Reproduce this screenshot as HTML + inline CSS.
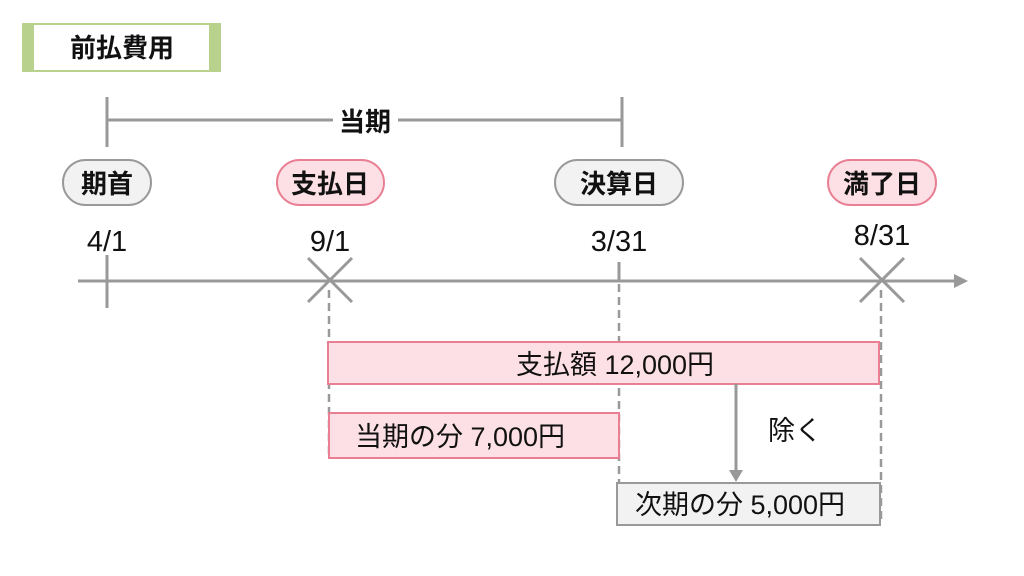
<!DOCTYPE html>
<html><head><meta charset="utf-8"><style>
html,body{margin:0;padding:0;background:#fff;}
svg{display:block;}
text{font-family:"Liberation Sans","Noto Sans CJK JP",sans-serif;fill:#111;}
</style></head><body>
<svg width="1024" height="576" viewBox="0 0 1024 576">
<rect x="22" y="23" width="199" height="49" fill="#b8d28e"/>
<rect x="34" y="25" width="175" height="45" fill="#fff"/>
<text x="122" y="57" font-size="26" font-weight="bold" text-anchor="middle">前払費用</text>

<g stroke="#999" stroke-width="3" fill="none">
<line x1="107" y1="97" x2="107" y2="147"/>
<line x1="622" y1="97" x2="622" y2="147"/>
<line x1="107" y1="120" x2="333" y2="120"/>
<line x1="398" y1="120" x2="622" y2="120"/>
</g>
<text x="365" y="131" font-size="26" font-weight="bold" text-anchor="middle">当期</text>

<rect x="63" y="160" width="88" height="45" rx="22.5" fill="#f2f2f2" stroke="#999" stroke-width="2"/>
<text x="107" y="193" font-size="26" font-weight="bold" text-anchor="middle">期首</text>
<rect x="277" y="160" width="107" height="45" rx="22.5" fill="#fde0e5" stroke="#e87f93" stroke-width="2"/>
<text x="330" y="193" font-size="26" font-weight="bold" text-anchor="middle">支払日</text>
<rect x="555" y="160" width="128" height="45" rx="22.5" fill="#f2f2f2" stroke="#999" stroke-width="2"/>
<text x="619" y="193" font-size="26" font-weight="bold" text-anchor="middle">決算日</text>
<rect x="828" y="160" width="108" height="45" rx="22.5" fill="#fde0e5" stroke="#e87f93" stroke-width="2"/>
<text x="882" y="193" font-size="26" font-weight="bold" text-anchor="middle">満了日</text>

<text x="107" y="251" font-size="29" text-anchor="middle">4/1</text>
<text x="330" y="251" font-size="29" text-anchor="middle">9/1</text>
<text x="619" y="251" font-size="29" text-anchor="middle">3/31</text>
<text x="882" y="245" font-size="29" text-anchor="middle">8/31</text>

<g stroke="#999" stroke-width="3" fill="none">
<line x1="78" y1="281" x2="956" y2="281"/>
<line x1="107" y1="255" x2="107" y2="308"/>
<line x1="619" y1="262" x2="619" y2="282"/>
<line x1="308" y1="258" x2="352" y2="302"/>
<line x1="352" y1="258" x2="308" y2="302"/>
<line x1="860" y1="258" x2="904" y2="302"/>
<line x1="904" y1="258" x2="860" y2="302"/>
</g>
<polygon points="954,274 968,281 954,288" fill="#999"/>

<g stroke="#999" stroke-width="2.5" stroke-dasharray="8,5" fill="none">
<line x1="329" y1="290" x2="329" y2="458"/>
<line x1="619" y1="284" x2="619" y2="510"/>
<line x1="881" y1="290" x2="881" y2="520"/>
</g>

<rect x="328" y="342" width="551" height="42" fill="#fde0e5" stroke="#e87f93" stroke-width="2"/>
<text x="615" y="374" font-size="27" text-anchor="middle">支払額 12,000円</text>
<rect x="329" y="413" width="290" height="45" fill="#fde0e5" stroke="#e87f93" stroke-width="2"/>
<text x="460" y="446" font-size="27" text-anchor="middle">当期の分 7,000円</text>
<rect x="617" y="483" width="263" height="42" fill="#f2f2f2" stroke="#999" stroke-width="2"/>
<text x="740" y="514" font-size="27" text-anchor="middle">次期の分 5,000円</text>

<line x1="736" y1="384" x2="736" y2="472" stroke="#999" stroke-width="3"/>
<polygon points="729,470 743,470 736,482" fill="#999"/>
<text x="795" y="440" font-size="27" text-anchor="middle">除く</text>
</svg>
</body></html>
